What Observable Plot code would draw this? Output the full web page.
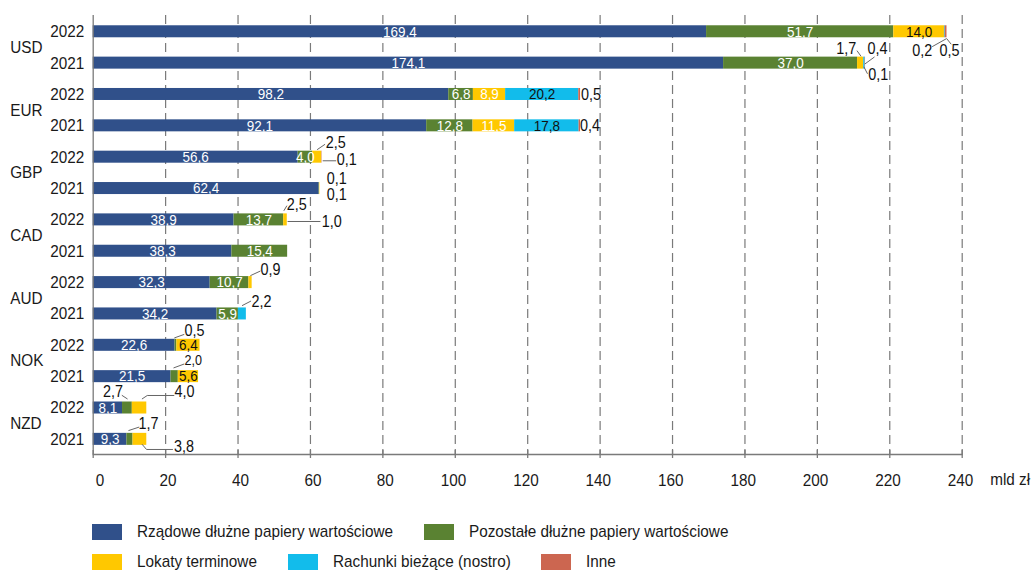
<!DOCTYPE html>
<html><head><meta charset="utf-8">
<script src="https://cdn.jsdelivr.net/npm/d3@7"></script>
<script src="https://cdn.jsdelivr.net/npm/@observablehq/plot@0.6"></script>
<style>
body{margin:0;background:#fff;}
#wrap{position:relative;width:1031px;height:571px;overflow:hidden;font-family:"Liberation Sans Narrow","Arial Narrow","Liberation Sans",sans-serif;color:#1a1a1a;}
#wrap svg{display:block;}
.lg{position:absolute;display:flex;align-items:center;font-size:17px;white-space:nowrap;}
.lg span.sw{display:inline-block;width:30px;height:16px;margin-right:15px;}
.lg span.tx{display:inline-block;transform:scaleX(0.9);transform-origin:0 50%;}
</style></head><body><div id="wrap"></div>
<script>
// ---- data ----
const currencies = ["USD","EUR","GBP","CAD","AUD","NOK","NZD"];
const years = ["2022","2021"];
const seriesNames = ["Rządowe dłużne papiery wartościowe","Pozostałe dłużne papiery wartościowe","Lokaty terminowe","Rachunki bieżące (nostro)","Inne"];
const seriesColors = ["#30508A","#5A8232","#FFC800","#12BCEB","#CC6650"];
// rows: USD 2022, USD 2021, EUR 2022, EUR 2021, ... NZD 2021
const rzadowe   = [169.4,174.1,98.2,92.1,56.6,62.4,38.9,38.3,32.3,34.2,22.6,21.5,8.1,9.3];
const pozostale = [51.7,37.0,6.8,12.8,4.0,0.1,13.7,15.4,10.7,5.9,0.5,2.0,2.7,1.7];
const lokaty    = [14.0,1.7,8.9,11.5,2.5,0.1,1.0,0,0.9,0,6.4,5.6,4.0,3.8];
const rachunki  = [0.2,0.4,20.2,17.8,0,0,0,0,0,2.2,0,0,0,0];
const inne      = [0.5,0.1,0.5,0.4,0.1,0,0,0,0,0,0,0,0,0];
const xTicks = [0,20,40,60,80,100,120,140,160,180,200,220,240];
const unitLabel = "mld zł";
const whiteLabelRows = ["EUR 2022","EUR 2021"]; // rows with white text on yellow

// callout annotations (label position & leader path in data units: value, row)
const callouts = [
  {row:0, s:3, lx:229.0, ly:0.60, path:[[235.6,0.223],[231.8,0.469]]},
  {row:0, s:4, lx:236.5, ly:0.60, path:[[235.8,0.23],[236.9,0.389]]},
  {row:1, s:2, lx:208.0, ly:0.533, path:[[211.0,0.612],[212.0,0.772]]},
  {row:1, s:3, lx:216.6, ly:0.533, path:[[215.7,0.81],[213.2,1.021]]},
  {row:1, s:4, lx:216.8, ly:1.362, path:[[212.9,1.129],[213.8,1.33]]},
  {row:2, s:4, lx:137.5, ly:2.0, path:null},
  {row:3, s:4, lx:137.2, ly:3.0, path:null},
  {row:4, s:2, lx:67.0, ly:3.531, path:[[61.93,3.754],[63.95,3.595]]},
  {row:4, s:4, lx:70.0, ly:4.073, path:[[63.48,4.115],[66.99,4.115]]},
  {row:5, s:1, lx:67.26, ly:4.685, path:null},
  {row:5, s:2, lx:67.26, ly:5.205, path:null},
  {row:6, s:null, text:"2,5", lx:56.2, ly:5.509, path:[[52.7,5.70],[53.44,5.557]]},
  {row:6, s:2, lx:65.88, ly:6.051, path:[[53.8,6.051],[62.65,6.051]]},
  {row:8, s:2, lx:49.0, ly:7.582, path:[[43.5,7.774],[46.06,7.637]]},
  {row:9, s:3, lx:46.5, ly:8.603, path:[[41.2,8.73],[43.5,8.593]]},
  {row:10, s:1, lx:28.0, ly:9.527, path:[[22.5,9.761],[25.05,9.656]]},
  {row:11, s:1, lx:27.6, ly:10.49, fs:14, path:[[22.28,10.718],[25.05,10.6]]},
  {row:12, s:1, lx:5.47, ly:11.496, path:[[8.0,11.601],[9.4,11.707]]},
  {row:12, s:2, lx:25.2, ly:11.496, path:[[13.55,11.707],[14.93,11.601],[22.28,11.601]]},
  {row:13, s:1, lx:15.28, ly:12.51, path:[[9.84,12.717],[12.6,12.612]]},
  {row:13, s:2, lx:25.1, ly:13.228, path:[[13.55,13.164],[14.73,13.323],[21.9,13.323]]}
];

// ---- build tables ----
const seriesValues = [rzadowe, pozostale, lokaty, rachunki, inne];
const fmt = v => d3.format(".1f")(v).replace(".", ",");
const rows = [];
currencies.forEach(c => years.forEach(y => rows.push({cur:c, year:y})));
const segments = [];
rows.forEach((r, i) => {
  let acc = 0;
  seriesValues.forEach((arr, s) => {
    const v = arr[i];
    if (v > 0) {
      segments.push({row:i, key:r.cur+" "+r.year, s, series:seriesNames[s], value:v, x1:acc, x2:acc+v});
    }
    acc += v;
  });
});
const calloutSet = new Set(callouts.filter(c => c.s != null).map(c => c.row+"_"+c.s));
const inner = segments.filter(d => d.value >= 4 && !calloutSet.has(d.row+"_"+d.s));
const labelFill = d => (d.s === 3 || (d.s === 2 && !whiteLabelRows.includes(d.key))) ? "#111" : "#fff";
const calloutTexts = callouts.map(c => ({x:c.lx, y:c.ly, fs:c.fs || 16, text: c.s != null ? fmt(seriesValues[c.s][c.row]) : c.text}));
const leaderPts = [];
callouts.forEach((c, k) => { if (c.path) c.path.forEach(p => leaderPts.push({id:k, x:p[0], y:p[1]})); });
const half = 0.1915;
const yBottom = 13.483;

const plot = Plot.plot({
  width: 1031, height: 500,
  marginLeft: 92.7, marginRight: 69.3, marginTop: 15, marginBottom: 46,
  style: {fontFamily: '"Liberation Sans Narrow","Arial Narrow","Liberation Sans",sans-serif', fontSize: "17px", color:"#1a1a1a", background:"#fff", overflow:"visible"},
  x: {domain:[0,240], axis:null},
  y: {type:"linear", domain:[-0.5, yBottom], range:[15.6, 454], axis:null},
  color: {domain: seriesNames, range: seriesColors},
  marks: [
    Plot.ruleX(xTicks.filter(t => t > 0), {stroke:"#7a7a7a", strokeWidth:1.2, strokeDasharray:"9,5"}),
    Plot.rect(segments, {x1:"x1", x2:"x2", y1: d => d.row - half, y2: d => d.row + half, fill:"series"}),
    Plot.text(inner, {x: d => (d.x1+d.x2)/2, y:"row", text: d => fmt(d.value), fill: labelFill, fontSize:15}),
    Plot.line(leaderPts, {x:"x", y:"y", z:"id", stroke:"#666", strokeWidth:1}),
    Plot.text(calloutTexts, {x:"x", y:"y", text:"text", fill:"#111", fontSize: d => d.fs}),
    Plot.ruleX([0], {stroke:"#7a7a7a", strokeWidth:1.3}),
    Plot.frame({anchor:"bottom", stroke:"#7a7a7a", strokeWidth:1.3}),
    Plot.ruleX(xTicks, {y1: yBottom - 4/31.35, y2: yBottom + 4/31.35, stroke:"#7a7a7a", strokeWidth:1.3}),
    Plot.axisX({ticks: xTicks, tickSize:0, tickPadding:19, tickFormat: d => String(d), textAnchor:"end", dx:11, fontSize:17, fill:"#1a1a1a"}),
    Plot.text([unitLabel], {x: () => 240, frameAnchor:"bottom", dx:28, dy:25, textAnchor:"start", lineAnchor:"middle", fontSize:17, fill:"#1a1a1a"}),
    Plot.axisY({ticks: d3.range(rows.length), tickFormat: i => rows[i].year, tickSize:0, tickPadding:9, fontSize:17, fill:"#1a1a1a"}),
    Plot.text(currencies, {y: (c, i) => i*2 + 0.5, frameAnchor:"left", dx:-83, textAnchor:"start", fontSize:17, fill:"#1a1a1a"})
  ]
});

// condense all SVG text horizontally about its anchor (no narrow font installed)
const SX = 0.9;
plot.querySelectorAll("text").forEach(t => {
  const tr = t.getAttribute("transform");
  if (tr) {
    t.setAttribute("transform", tr + ` scale(${SX},1)`);
  } else {
    const x = +(t.getAttribute("x") || 0);
    t.setAttribute("transform", `translate(${x},0) scale(${SX},1) translate(${-x},0)`);
  }
});

const wrap = document.getElementById("wrap");
wrap.appendChild(plot);

// legend (HTML)
const legendPos = [[92,522],[424,522],[92,552],[288,552],[541,552]];
seriesNames.forEach((n, i) => {
  const el = document.createElement("div");
  el.className = "lg";
  el.style.left = legendPos[i][0] + "px";
  el.style.top = legendPos[i][1] + "px";
  el.innerHTML = `<span class="sw" style="background:${seriesColors[i]}"></span><span class="tx">${n}</span>`;
  wrap.appendChild(el);
});
</script></body></html>
